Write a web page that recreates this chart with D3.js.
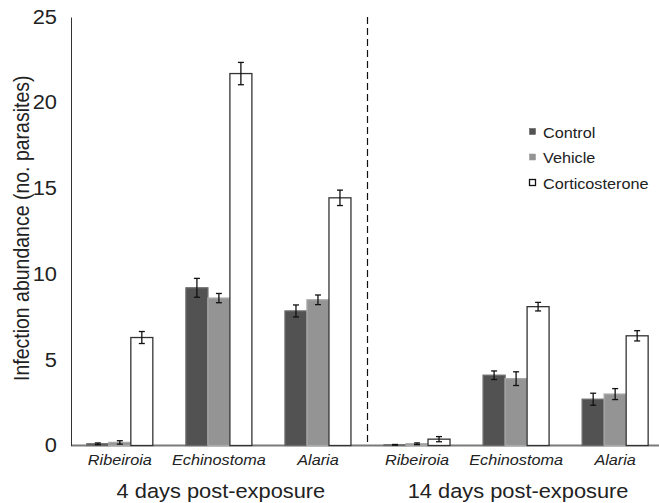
<!DOCTYPE html>
<html>
<head>
<meta charset="utf-8">
<script src="https://cdn.jsdelivr.net/npm/d3@7.9.0/dist/d3.min.js"></script>
<style>
  body { margin: 0; background: #fff; }
  svg { display: block; font-family: "Liberation Sans", Arial, sans-serif; }
</style>
</head>
<body>
<div id="chart"></div>
<script>
// periods, parasites and treatments
const periods = ['4 days post-exposure', '14 days post-exposure'];
const parasites = ['Ribeiroia', 'Echinostoma', 'Alaria'];
const treatments = ['Control', 'Vehicle', 'Corticosterone'];

// mean abundance, one array per treatment (4d R, E, A, then 14d R, E, A)
const controlMean = [0.1, 9.2, 7.85, 0.04, 4.1, 2.7];
const vehicleMean = [0.18, 8.6, 8.5, 0.1, 3.9, 3.0];
const corticoMean = [6.3, 21.7, 14.45, 0.37, 8.1, 6.4];

// standard errors
const controlErr = [0.05, 0.55, 0.35, 0.02, 0.25, 0.35];
const vehicleErr = [0.1, 0.27, 0.28, 0.05, 0.4, 0.32];
const corticoErr = [0.35, 0.65, 0.45, 0.15, 0.25, 0.3];

const yTicks = [0, 5, 10, 15, 20, 25];

const width = 659;
const height = 503;
const margin = { top: 17, right: 0, bottom: 58, left: 71 };
const stretch = 1.12; // text in the original looks a little wide

const groups = [];
periods.forEach((p, pi) => parasites.forEach((s) => groups.push({ key: pi + '-' + s, period: p, parasite: s })));

const series = [
  { name: 'Control', mean: controlMean, err: controlErr, fill: '#525252', stroke: '#6a6a6a' },
  { name: 'Vehicle', mean: vehicleMean, err: vehicleErr, fill: '#949494', stroke: '#a8a8a8' },
  { name: 'Corticosterone', mean: corticoMean, err: corticoErr, fill: '#ffffff', stroke: '#333' },
];

const rows = [];
groups.forEach((g, gi) => series.forEach((s) => {
  rows.push({ group: g.key, treatment: s.name, value: s.mean[gi], err: s.err[gi], fill: s.fill, stroke: s.stroke });
}));

const svg = d3.select('#chart').append('svg')
  .attr('width', width)
  .attr('height', height);

const x0 = d3.scaleBand()
  .domain(groups.map(d => d.key))
  .range([margin.left, 664])
  .paddingInner(0.334)
  .paddingOuter(0.16);

const x1 = d3.scaleBand()
  .domain(treatments)
  .range([0, x0.bandwidth()]);

const y = d3.scaleLinear()
  .domain([0, 25])
  .range([height - margin.bottom + 0.5, margin.top]);

// helper: wide text placed at (x, y)
function wideText(sel, x, yy) {
  return sel.append('text')
    .attr('transform', `translate(${x},${yy}) scale(${stretch},1)`)
    .attr('fill', '#222');
}

// x axis baseline
svg.append('line')
  .attr('x1', margin.left)
  .attr('x2', width)
  .attr('y1', y(0))
  .attr('y2', y(0))
  .attr('stroke', '#7a7a7a')
  .attr('stroke-width', 2);

// y axis
const yAxis = svg.append('g')
  .attr('transform', `translate(${margin.left},0)`)
  .call(d3.axisLeft(y).tickValues(yTicks).tickSize(0).tickPadding(0).tickFormat(d3.format('d')));
yAxis.select('.domain').attr('stroke', '#333').attr('stroke-width', 1);
yAxis.selectAll('.tick text')
  .attr('x', 0)
  .attr('transform', `translate(-14,0) scale(${stretch},1)`)
  .attr('font-size', 19.5)
  .attr('fill', '#222')
  .attr('font-family', '"Liberation Sans", Arial, sans-serif');

svg.append('text')
  .attr('transform', `translate(29, ${(y(0) + y(25)) / 2 - 3}) rotate(-90) scale(1,${stretch})`)
  .attr('text-anchor', 'middle')
  .attr('font-size', 19.5)
  .attr('fill', '#222')
  .text('Infection abundance (no. parasites)');

// divider between periods
const g3 = groups[2].key, g4 = groups[3].key;
const divX = Math.round((x0(g3) + x0.bandwidth() + x0(g4)) / 2) - 0.5;
svg.append('line')
  .attr('x1', divX)
  .attr('x2', divX)
  .attr('y1', y(25))
  .attr('y2', y(0))
  .attr('stroke', '#111')
  .attr('stroke-width', 1.2)
  .attr('stroke-dasharray', '7,4');

// bars
svg.append('g')
  .selectAll('rect')
  .data(rows)
  .join('rect')
  .attr('x', d => x0(d.group) + x1(d.treatment))
  .attr('y', d => y(d.value))
  .attr('width', x1.bandwidth())
  .attr('height', d => y(0) - y(d.value))
  .attr('fill', d => d.fill)
  .attr('stroke', d => d.stroke)
  .attr('stroke-width', 1.3);

// error bars
const eb = svg.append('g').attr('stroke', '#111').attr('stroke-width', 1.3);
const cap = 3;
rows.forEach((d) => {
  const cx = x0(d.group) + x1(d.treatment) + x1.bandwidth() / 2;
  const top = y(d.value + d.err);
  const bot = y(Math.max(0, d.value - d.err));
  eb.append('line').attr('x1', cx).attr('x2', cx).attr('y1', top).attr('y2', bot);
  eb.append('line').attr('x1', cx - cap).attr('x2', cx + cap).attr('y1', top).attr('y2', top);
  eb.append('line').attr('x1', cx - cap).attr('x2', cx + cap).attr('y1', bot).attr('y2', bot);
});

// parasite labels
const labG = svg.append('g');
groups.forEach((g) => {
  wideText(labG, x0(g.key) + x0.bandwidth() / 2, 465)
    .attr('text-anchor', 'middle')
    .attr('font-size', 14.5)
    .attr('font-style', 'italic')
    .text(g.parasite);
});

// period labels
const perG = svg.append('g');
periods.forEach((p, pi) => {
  const mid = groups[pi * 3 + 1].key;
  wideText(perG, x0(mid) + x0.bandwidth() / 2 + 2, 498)
    .attr('text-anchor', 'middle')
    .attr('font-size', 19.5)
    .text(p);
});

// legend
const legend = svg.append('g').attr('transform', 'translate(529,132)');
series.forEach((s, i) => {
  const row = legend.append('g').attr('transform', `translate(0,${i * 25.5})`);
  row.append('rect')
    .attr('x', 0.5)
    .attr('y', -3.5)
    .attr('width', 6)
    .attr('height', 6)
    .attr('fill', s.fill)
    .attr('stroke', s.name === 'Corticosterone' ? '#111' : s.fill)
    .attr('stroke-width', s.name === 'Corticosterone' ? 1.3 : 0.5);
  wideText(row, 14, 5.5)
    .attr('font-size', 14.5)
    .text(s.name);
});
</script>
</body>
</html>
